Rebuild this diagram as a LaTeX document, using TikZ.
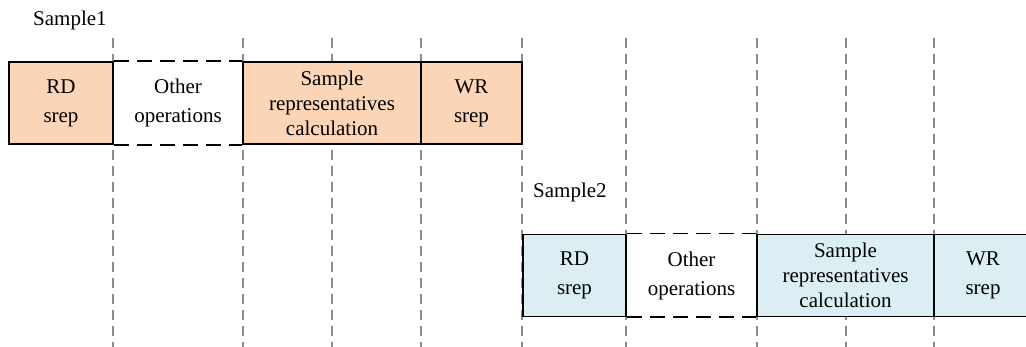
\documentclass[tikz,border=0pt]{standalone}
\usepackage{fontspec}
\setmainfont{Liberation Serif}
\definecolor{peach}{RGB}{251,213,181}
\definecolor{paleblue}{RGB}{218,238,243}
\definecolor{guidegray}{RGB}{140,140,140}
\tikzset{
  guide/.style={draw=guidegray, line width=1.3pt, dash pattern=on 10pt off 6pt},
  cell/.style={draw=black, line width=1.8pt, rectangle, inner sep=0pt, align=center, minimum height=82pt, font=\fontsize{21}{29}\selectfont},
  tallcell/.style={cell, font=\fontsize{21}{25}\selectfont},
  opencell/.style={rectangle, inner sep=0pt, align=center, minimum height=82pt, font=\fontsize{21}{29}\selectfont},
  dashedge/.style={draw=black, line width=1.8pt, dash pattern=on 15pt off 8pt},
  lbl/.style={anchor=west, inner sep=0pt}
}
\begin{document}
\begin{tikzpicture}[x=1pt,y=1pt,font=\fontsize{21}{25}\selectfont]
\useasboundingbox (0,0) rectangle (1026,347);
\foreach \x in {113,243,332,421,522,626,757,846,934}
  \draw[guide] (\x,309) -- (\x,0);
% Sample 1
\node[lbl] (s1) at (33,327) {Sample1};
\node[cell, fill=peach, minimum width=104pt] (a1) at (61,244) {RD\\srep};
\node[opencell, minimum width=130pt] (a2) at (178,244) {Other\\operations};
\node[tallcell, fill=peach, minimum width=178pt] (a3) at (332,244) {Sample\\representatives\\calculation};
\node[cell, fill=peach, minimum width=101pt] (a4) at (471.5,244) {WR\\srep};
\draw[dashedge] (a1.north east) -- (a3.north west);
\draw[dashedge] (a1.south east) -- (a3.south west);
% Sample 2
\node[lbl] (s2) at (533,155) {Sample2};
\node[cell, fill=paleblue, minimum width=103pt] (b1) at (574.5,71.5) {RD\\srep};
\node[opencell, minimum width=131pt] (b2) at (691.5,71.5) {Other\\operations};
\node[tallcell, fill=paleblue, minimum width=177pt] (b3) at (845.5,71.5) {Sample\\representatives\\calculation};
\node[cell, fill=paleblue, minimum width=98pt] (b4) at (983,71.5) {WR\\srep};
\draw[dashedge] (b1.north east) -- (b3.north west);
\draw[dashedge] (b1.south east) -- (b3.south west);
\end{tikzpicture}
\end{document}
